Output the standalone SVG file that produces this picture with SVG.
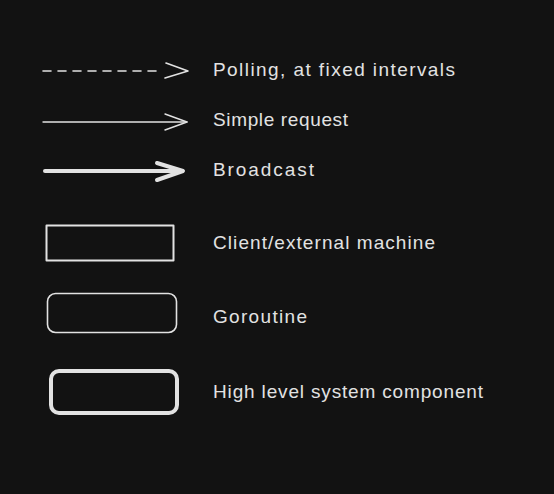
<svg xmlns="http://www.w3.org/2000/svg" width="554" height="494" viewBox="0 0 554 494">
<style>
.lbl{font-family:"Liberation Sans","DejaVu Sans",sans-serif;font-size:19px;fill:#e2e2e2}
.ln{fill:none;stroke:#e2e2e2;stroke-linecap:round;stroke-linejoin:round}
</style>
<rect width="554" height="494" fill="#121212"/>
<g id="connectors">
<g id="polling-arrow">
<path class="ln" d="M43 71 H160" stroke-width="1.6" stroke-dasharray="8 7"/>
<path class="ln" d="M166 63 L188 71 L165 78" stroke-width="1.6"/>
</g>
<g id="simple-arrow">
<path class="ln" d="M43 122 H187" stroke-width="1.4"/>
<path class="ln" d="M165 114 L187 122 L165 130" stroke-width="1.4"/>
</g>
<g id="broadcast-arrow">
<path class="ln" d="M45 171 H182" stroke-width="4"/>
<path class="ln" d="M157 163 L183 171 L157 180" stroke-width="4"/>
</g>
</g>
<g id="client-node"><rect class="ln" x="46.5" y="225.5" width="127" height="35" stroke-width="2"/></g>
<g id="goroutine-node"><rect class="ln" x="47.5" y="293.5" width="129" height="39" rx="8" stroke-width="1.6"/></g>
<g id="component-node"><rect class="ln" x="51" y="371" width="126" height="42" rx="8" stroke-width="4"/></g>
<g id="labels">
<text class="lbl" x="213" y="76" textLength="242" lengthAdjust="spacing">Polling, at fixed intervals</text>
<text class="lbl" x="213" y="126" textLength="135" lengthAdjust="spacing">Simple request</text>
<text class="lbl" x="213" y="176" textLength="101" lengthAdjust="spacing">Broadcast</text>
<text class="lbl" x="213" y="249" textLength="222" lengthAdjust="spacing">Client/external machine</text>
<text class="lbl" x="213" y="323" textLength="94" lengthAdjust="spacing">Goroutine</text>
<text class="lbl" x="213" y="398" textLength="270" lengthAdjust="spacing">High level system component</text>
</g>
</svg>
